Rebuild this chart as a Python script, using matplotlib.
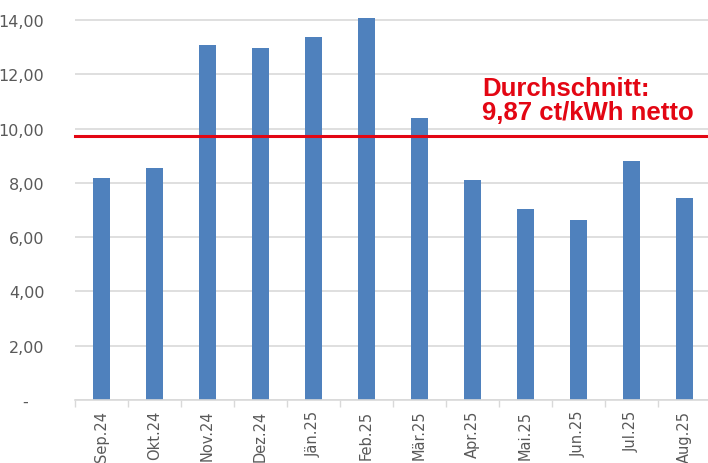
import matplotlib.pyplot as plt
import numpy as np

months = ["Sep.24", "Okt.24", "Nov.24", "Dez.24", "Jän.25", "Feb.25",
          "Mär.25", "Apr.25", "Mai.25", "Jun.25", "Jul.25", "Aug.25"]
prices = [8.18, 8.55, 13.08, 12.97, 13.37, 14.07,
          10.39, 8.10, 7.03, 6.63, 8.80, 7.44]
avg_line = 9.72
avg_label = "Durchschnitt:\n9,87 ct/kWh netto"
y_ticks = [0, 2, 4, 6, 8, 10, 12, 14]
y_ticklabels = ["-   ", "2,00", "4,00", "6,00", "8,00", "10,00", "12,00", "14,00"]

fig = plt.figure(figsize=(7.08, 4.64), dpi=100)
ax = fig.add_axes([75 / 708, 63 / 464, 636 / 708, (401 - 15.5) / 464])

x = np.arange(len(months))
ax.bar(x, prices, width=0.32, color="#4f81bd", zorder=2, clip_on=False)

ax.set_xlim(-0.5, len(months) - 0.5)
ax.set_ylim(0, 14.2)
ax.set_yticks(y_ticks)
ax.set_yticklabels(y_ticklabels)
ax.yaxis.grid(True, color="#d9d9d9", linewidth=1.2, zorder=0)
ax.set_axisbelow(True)

ax.set_xticks(x)
ax.set_xticklabels(months, rotation=90)
ax.set_xticks(np.arange(len(months) + 1) - 0.5, minor=True)
ax.tick_params(axis="x", which="major", length=0, pad=7, labelsize=10.5,
               labelcolor="#595959")
ax.tick_params(axis="x", which="minor", length=5, color="#d9d9d9", width=1)
ax.tick_params(axis="y", length=0, pad=22, labelsize=11.5, labelcolor="#595959")

for side in ["left", "right", "top"]:
    ax.spines[side].set_visible(False)
ax.spines["bottom"].set_color("#d9d9d9")
ax.spines["bottom"].set_linewidth(1.2)

ax.axhline(avg_line, color="#e30613", linewidth=2.2, zorder=3, clip_on=False)
ax.text(7.18, 11.95, avg_label, color="#e30613", fontsize=18.5, fontweight="bold",
        family="Liberation Sans", ha="left", va="top", linespacing=1.0)

fig.savefig("out.png", dpi=100)
